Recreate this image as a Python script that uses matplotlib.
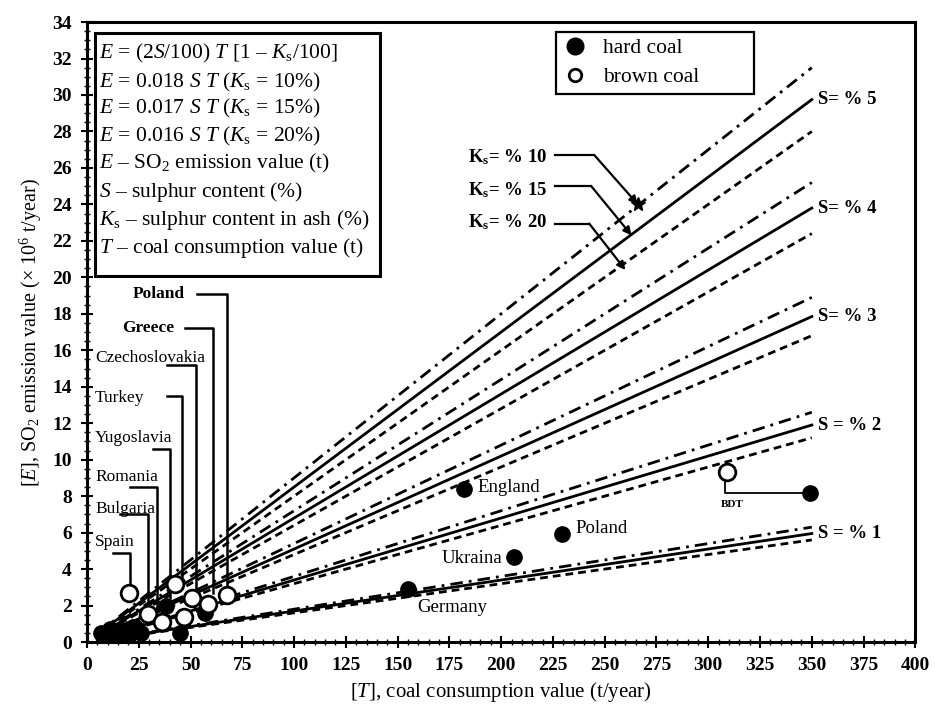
import numpy as np
import matplotlib
matplotlib.use('Agg')
import matplotlib.pyplot as plt
from matplotlib.patches import Rectangle
from matplotlib.lines import Line2D
from matplotlib.ticker import MultipleLocator

plt.rcParams['font.family'] = ['Liberation Serif', 'DejaVu Serif']
plt.rcParams['mathtext.fontset'] = 'custom'
plt.rcParams['mathtext.rm'] = 'Liberation Serif'
plt.rcParams['mathtext.it'] = 'Liberation Serif:italic'
plt.rcParams['mathtext.bf'] = 'Liberation Serif:bold'

# emission lines, read at both ends (T = 5 and T = 350)
sulphur = [1, 2, 3, 4, 5]
line_t = [5, 350]
e_start_k10 = [0.09, 0.18, 0.27, 0.36, 0.45]
e_start_k15 = [0.085, 0.17, 0.255, 0.34, 0.425]
e_start_k20 = [0.08, 0.16, 0.24, 0.32, 0.40]
e_end_k10 = [6.3, 12.6, 18.9, 25.2, 31.5]
e_end_k15 = [5.95, 11.9, 17.85, 23.8, 29.75]
e_end_k20 = [5.6, 11.2, 16.8, 22.4, 28.0]

# hard coal points (filled)
hard_t = [7, 9, 11, 14, 17, 20, 23, 26, 38, 45, 57, 155, 182, 206, 229.5, 349]
hard_e = [0.5, 0.3, 0.7, 0.4, 0.6, 0.3, 0.8, 0.5, 2.0, 0.5, 1.6, 2.9, 8.4, 4.65, 5.9, 8.2]

# brown coal points (open)
brown_t = [20.3, 29.5, 36.2, 42.5, 46.9, 50.7, 58.5, 67.6, 309]
brown_e = [2.7, 1.55, 1.1, 3.2, 1.4, 2.4, 2.1, 2.6, 9.3]

eq_lines = [r'$E$ = (2$S$/100) $T$ [1 – $K_\mathrm{s}$/100]',
            r'$E$ = 0.018 $S$ $T$ ($K_\mathrm{s}$ = 10%)',
            r'$E$ = 0.017 $S$ $T$ ($K_\mathrm{s}$ = 15%)',
            r'$E$ = 0.016 $S$ $T$ ($K_\mathrm{s}$ = 20%)',
            r'$E$ – SO$_2$ emission value (t)',
            r'$S$ – sulphur content (%)',
            r'$K_\mathrm{s}$ – sulphur content in ash (%)',
            r'$T$ – coal consumption value (t)']

fig = plt.figure(figsize=(9.35, 7.11), dpi=100)
ax = fig.add_axes([0.093, 0.097, 0.886, 0.872])

for i in range(len(sulphur)):
    ax.plot(line_t, [e_start_k10[i], e_end_k10[i]], color='black', lw=2,
            linestyle=(0, (4.5, 2.2, 1, 2.2)))
    ax.plot(line_t, [e_start_k15[i], e_end_k15[i]], color='black', lw=2)
    ax.plot(line_t, [e_start_k20[i], e_end_k20[i]], color='black', lw=2,
            linestyle=(0, (2.8, 1.8)))

ax.plot(hard_t, hard_e, 'o', color='black', ms=11, zorder=5)
ax.plot(brown_t, brown_e, 'o', mfc='white', mec='black', mew=2, ms=12, zorder=6)

# S labels
s_labels = ['S = % 1', 'S = % 2', 'S= % 3', 'S= % 4', 'S= % 5']
for i in range(5):
    ax.text(353, e_end_k15[i], s_labels[i], fontsize=13.5, fontweight='bold',
            va='center', ha='left')

# K labels with arrows
k_labels = [r'K$_\mathbf{s}$= % 10', r'K$_\mathbf{s}$= % 15', r'K$_\mathbf{s}$= % 20']
k_y = [26.6, 24.8, 23.0]
k_lead = [26.7, 25.0, 22.95]
k_corner = [245, 243.5, 242.5]
k_tip = [(266, 24.0), (263, 22.3), (260, 20.4)]
for i in range(3):
    ax.text(184, k_y[i], k_labels[i], fontsize=13.5, fontweight='bold', va='center')
    ax.plot([226, k_corner[i]], [k_lead[i], k_lead[i]], color='black', lw=1.6)
    ax.annotate('', xy=k_tip[i], xytext=(k_corner[i], k_lead[i]),
                arrowprops=dict(arrowstyle='-|>', lw=1.6, color='black',
                                shrinkA=0, shrinkB=0, mutation_scale=12))
ax.plot(k_tip[0][0], k_tip[0][1], '*', color='black', ms=10, zorder=7)

# country labels on the left with elbow leaders
countries = ['Poland', 'Greece', 'Czechoslovakia', 'Turkey', 'Yugoslavia',
             'Romania', 'Bulgaria', 'Spain']
c_x = [22.2, 17, 3.9, 3.9, 3.9, 3.9, 3.9, 3.9]
c_y = [19.1, 17.2, 15.6, 13.4, 11.2, 9.05, 7.3, 5.5]
lead_y = [19.1, 17.2, 15.2, 13.5, 10.6, 8.5, 7.0, 4.9]
lead_x0 = [53, 47.3, 38.6, 38.6, 31.9, 20.8, 16, 12.6]
lead_x1 = [67.6, 61, 52.7, 46, 40, 33.8, 29.5, 20.8]
lead_end = [3.0, 2.7, 2.9, 3.5, 2.4, 1.7, 2.0, 3.2]
for i in range(len(countries)):
    w = 'bold' if i < 2 else 'normal'
    ax.text(c_x[i], c_y[i], countries[i], fontsize=12.5, fontweight=w, va='center')
    ax.plot([lead_x0[i], lead_x1[i], lead_x1[i]], [lead_y[i], lead_y[i], lead_end[i]],
            color='black', lw=1.8, zorder=4)

# labels on the right
ax.text(188.4, 8.5, 'England', fontsize=13.5, va='center')
ax.text(235.7, 6.25, 'Poland', fontsize=13.5, va='center')
ax.text(200.5, 4.6, 'Ukraina', fontsize=13.5, va='center', ha='right')
ax.text(159.4, 1.9, 'Germany', fontsize=13.5, va='center')
ax.plot([308, 308, 349], [8.95, 8.2, 8.2], color='black', lw=1.3, zorder=4)
ax.text(311.6, 7.55, 'BDT', fontsize=8, fontweight='bold', ha='center', va='center')

# equation box
ax.add_patch(Rectangle((3.9, 20.1), 137.6, 13.3, fill=False, ec='black', lw=2.2, zorder=3))
eq_y = [32.3, 30.7, 29.25, 27.75, 26.25, 24.7, 23.15, 21.6]
for i in range(len(eq_lines)):
    ax.text(5.6, eq_y[i], eq_lines[i], fontsize=15.5, va='center')

# coal type legend
handles = [Line2D([], [], marker='o', color='black', ls='none', ms=12),
           Line2D([], [], marker='o', mfc='white', mec='black', mew=2, ls='none', ms=9)]
leg = ax.legend(handles, ['hard coal', 'brown coal'], loc='upper left',
                bbox_to_anchor=(0.566, 0.885, 0.239, 0.099), mode='expand',
                borderaxespad=0, fontsize=15.5, fancybox=False,
                edgecolor='black', framealpha=1, borderpad=0.3, labelspacing=0.4,
                handletextpad=0.7, handlelength=1.2)
leg.get_frame().set_linewidth(1.6)

ax.set_xlim(0, 400)
ax.set_ylim(0, 34)
ax.xaxis.set_major_locator(MultipleLocator(25))
ax.xaxis.set_minor_locator(MultipleLocator(5))
ax.yaxis.set_major_locator(MultipleLocator(2))
ax.yaxis.set_minor_locator(MultipleLocator(0.5))
ax.tick_params(which='major', direction='inout', length=8, width=1.5, labelsize=14, pad=7)
ax.tick_params(which='minor', direction='inout', length=4, width=1)
for lab in ax.get_xticklabels() + ax.get_yticklabels():
    lab.set_fontweight('bold')
for sp in ax.spines.values():
    sp.set_linewidth(2.2)

ax.set_xlabel(r'[$T$], coal consumption value (t/year)', fontsize=15, labelpad=4)
ax.set_ylabel(r'[$E$], SO$_2$ emission value (× 10$^6$ t/year)', fontsize=14.5, labelpad=6)

plt.savefig('out.png', dpi=100)
